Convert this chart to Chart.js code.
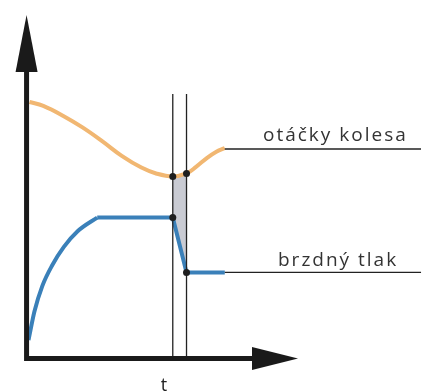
<!DOCTYPE html>
<html>
<head>
<meta charset="utf-8">
<script src="https://cdn.jsdelivr.net/npm/chart.js@4/dist/chart.umd.min.js"></script>
<style>
  html, body { margin: 0; padding: 0; background: #fff; }
  #wrap { width: 427px; height: 392px; }
</style>
</head>
<body>
<div id="wrap"><canvas id="brakeChart" width="427" height="392"></canvas></div>
<script>
// Wheel speed vs. brake pressure during an ABS cycle (time on x, origin at the axes corner)
const wheelSpeedX = [3, 17, 37, 57, 77, 97, 117, 132, 149, 163, 173, 184, 193, 202];
const wheelSpeedY = [262, 258, 248, 236, 222, 207, 195, 189, 186, 189, 196, 205, 211, 215];

const pressureRiseX = [2, 8, 16, 26, 38, 52, 72];
const pressureRiseY = [19, 48, 74, 95, 114, 130, 144];
const pressureHoldX = [72, 149, 163, 202];
const pressureHoldY = [144, 144, 88, 88];

// marker times t1, t2 and the span the vertical lines cover
const markerX = [149, 163];
const markerTop = 270;

// leader lines out to the labels
const labelLineX = [202, 402];
const speedLabel = 'otáčky kolesa';
const pressureLabel = 'brzdný tlak';
const timeLabel = 't';

const toPts = (xs, ys) => xs.map((x, i) => ({ x: x, y: ys[i] }));
const speedAt = x => wheelSpeedY[wheelSpeedX.indexOf(x)];
const pressureAt = x => pressureHoldY[pressureHoldX.indexOf(x)];

const speedLineY = 214;
const pressureLineY = pressureHoldY[pressureHoldY.length - 1];

// Axes with arrow heads plus the text labels
const annotations = {
  id: 'annotations',
  afterDatasetsDraw(chart) {
    const { ctx, scales: { x, y } } = chart;
    const ox = x.getPixelForValue(0);
    const oy = y.getPixelForValue(0);
    ctx.save();
    ctx.strokeStyle = '#1a1a1a';
    ctx.fillStyle = '#1a1a1a';
    ctx.lineWidth = 5;
    ctx.lineCap = 'butt';
    ctx.beginPath();
    ctx.moveTo(ox, oy + 2.5);
    ctx.lineTo(ox, 70);
    ctx.moveTo(ox - 2.5, oy);
    ctx.lineTo(254, oy);
    ctx.stroke();
    // y arrow
    ctx.beginPath();
    ctx.moveTo(ox, 15);
    ctx.lineTo(ox + 11, 72);
    ctx.lineTo(ox - 11, 72);
    ctx.closePath();
    ctx.fill();
    // x arrow
    ctx.beginPath();
    ctx.moveTo(298, oy);
    ctx.lineTo(252, oy - 11.5);
    ctx.lineTo(252, oy + 11.5);
    ctx.closePath();
    ctx.fill();

    ctx.fillStyle = '#333';
    ctx.font = '19px "Open Sans"';
    ctx.textBaseline = 'alphabetic';
    ctx.letterSpacing = '2px';
    ctx.textAlign = 'left';
    ctx.fillText(speedLabel, 263, y.getPixelForValue(speedLineY) - 8);
    ctx.fillText(pressureLabel, 278, y.getPixelForValue(pressureLineY) - 6);
    ctx.letterSpacing = '0px';
    ctx.font = '18px "Open Sans"';
    ctx.textAlign = 'center';
    ctx.fillStyle = '#222';
    ctx.fillText(timeLabel, 164, 391);
    ctx.restore();
  }
};

const lineBase = {
  showLine: true,
  pointRadius: 0,
  fill: false
};

new Chart(document.getElementById('brakeChart'), {
  type: 'scatter',
  data: {
    datasets: [
      // grey band between the two curves over t1..t2
      {
        ...lineBase,
        data: markerX.map(m => ({ x: m, y: speedAt(m) })),
        borderColor: 'rgba(0,0,0,0)',
        backgroundColor: '#c9cbd3',
        fill: '+1',
        order: 5
      },
      {
        ...lineBase,
        data: markerX.map(m => ({ x: m, y: pressureAt(m) })),
        borderColor: 'rgba(0,0,0,0)',
        order: 5
      },
      {
        ...lineBase,
        data: toPts(wheelSpeedX, wheelSpeedY),
        borderColor: '#f1b772',
        borderWidth: 4,
        tension: 0.4,
        order: 3
      },
      {
        ...lineBase,
        data: toPts(pressureRiseX, pressureRiseY),
        borderColor: '#3a80b9',
        borderWidth: 4,
        cubicInterpolationMode: 'monotone',
        order: 3
      },
      {
        ...lineBase,
        data: toPts(pressureHoldX, pressureHoldY),
        borderColor: '#3a80b9',
        borderWidth: 4,
        tension: 0,
        borderJoinStyle: 'miter',
        order: 3
      },
      // vertical marker lines
      ...markerX.map(m => ({
        ...lineBase,
        data: [{ x: m, y: 0 }, { x: m, y: markerTop }],
        borderColor: '#222',
        borderWidth: 1.3,
        order: 2
      })),
      // leader lines under the labels
      {
        ...lineBase,
        data: labelLineX.map(v => ({ x: v, y: speedLineY })),
        borderColor: '#222',
        borderWidth: 1.3,
        order: 2
      },
      {
        ...lineBase,
        data: labelLineX.map(v => ({ x: v, y: pressureLineY })),
        borderColor: '#222',
        borderWidth: 1.3,
        order: 2
      },
      // points where the markers cross the curves
      {
        data: markerX.flatMap(m => [{ x: m, y: speedAt(m) }, { x: m, y: pressureAt(m) }]),
        showLine: false,
        pointRadius: 3.5,
        pointBackgroundColor: '#1e1e1e',
        pointBorderWidth: 0,
        order: 1
      }
    ]
  },
  options: {
    responsive: false,
    animation: false,
    layout: { padding: 0 },
    plugins: {
      legend: { display: false },
      tooltip: { enabled: false },
      filler: { propagate: false }
    },
    scales: {
      x: { type: 'linear', min: -23, max: 404, display: false },
      y: { type: 'linear', min: -30, max: 362, display: false }
    }
  },
  plugins: [annotations]
});
</script>
</body>
</html>
